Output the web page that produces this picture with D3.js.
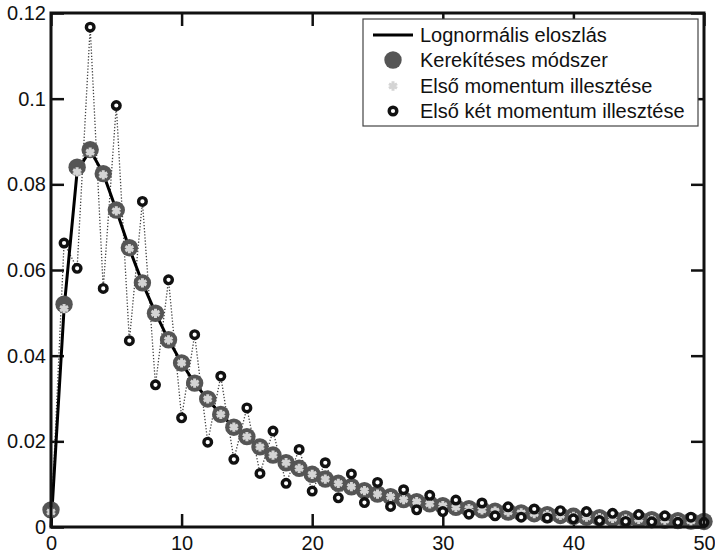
<!DOCTYPE html>
<html>
<head>
<meta charset="utf-8">
<script src="https://cdn.jsdelivr.net/npm/d3@7/dist/d3.min.js"></script>
<style>
  body { margin: 0; background: #fff; }
  text { font-family: "Liberation Sans", Arial, sans-serif; }
</style>
</head>
<body>
<svg id="chart" width="715" height="553"></svg>
<script>
var ks = [0, 1, 2, 3, 4, 5, 6, 7, 8, 9, 10, 11, 12, 13, 14, 15, 16, 17, 18, 19, 20,
  21, 22, 23, 24, 25, 26, 27, 28, 29, 30, 31, 32, 33, 34, 35, 36, 37, 38, 39, 40,
  41, 42, 43, 44, 45, 46, 47, 48, 49, 50];

// Lognormális eloszlás (line)
var lognormVals = [0, 0.051, 0.083, 0.088, 0.0825, 0.074, 0.065, 0.057, 0.050, 0.0437, 0.0383,
  0.0336, 0.0298, 0.0263, 0.0233, 0.0209, 0.0187, 0.0167, 0.0150, 0.0136, 0.0123,
  0.0112, 0.0102, 0.0094, 0.0085, 0.0077, 0.0071, 0.0064, 0.0059, 0.0054, 0.0050,
  0.0046, 0.0043, 0.0040, 0.0037, 0.0035, 0.0033, 0.0031, 0.0029, 0.0027, 0.0025,
  0.0023, 0.0022, 0.0020, 0.0019, 0.0018, 0.0017, 0.0016, 0.0015, 0.0014, 0.0013];

// Kerekítéses módszer
var roundVals = [0.004, 0.052, 0.084, 0.0881, 0.0825, 0.074, 0.0652, 0.057, 0.0499, 0.0437, 0.0383,
  0.0336, 0.0299, 0.0263, 0.0233, 0.0211, 0.0187, 0.0168, 0.0150, 0.0137, 0.0123,
  0.0112, 0.0102, 0.0094, 0.0085, 0.0077, 0.0071, 0.0064, 0.0059, 0.0054, 0.0050,
  0.0046, 0.0043, 0.0040, 0.0037, 0.0035, 0.0033, 0.0031, 0.0029, 0.0027, 0.0025,
  0.0023, 0.0022, 0.0020, 0.0019, 0.0018, 0.0017, 0.0016, 0.0015, 0.0014, 0.0013];

// Első momentum illesztése
var firstMomVals = [0.0035, 0.051, 0.0829, 0.0875, 0.0822, 0.0738, 0.065, 0.057, 0.0499, 0.0437, 0.0383,
  0.0336, 0.0299, 0.0263, 0.0233, 0.0211, 0.0187, 0.0168, 0.0150, 0.0137, 0.0123,
  0.0112, 0.0102, 0.0094, 0.0085, 0.0077, 0.0071, 0.0064, 0.0059, 0.0054, 0.0050,
  0.0046, 0.0043, 0.0040, 0.0037, 0.0035, 0.0033, 0.0031, 0.0029, 0.0027, 0.0025,
  0.0023, 0.0022, 0.0020, 0.0019, 0.0018, 0.0017, 0.0016, 0.0015, 0.0014, 0.0013];

// Első két momentum illesztése
var twoMomVals = [0, 0.0663, 0.0604, 0.1167, 0.0557, 0.0984, 0.0435, 0.0760, 0.0332, 0.0577, 0.0255,
  0.0449, 0.0198, 0.0352, 0.0158, 0.0278, 0.0125, 0.0224, 0.0102, 0.0181, 0.0084,
  0.0150, 0.0068, 0.0124, 0.0057, 0.0104, 0.0048, 0.0087, 0.0040, 0.0074, 0.0036,
  0.0063, 0.0030, 0.0056, 0.0026, 0.0047, 0.0023, 0.0042, 0.0021, 0.0038, 0.0019,
  0.0036, 0.0015, 0.0032, 0.0013, 0.0029, 0.0012, 0.0026, 0.0011, 0.0023, 0.0011];

var xTicks = [0, 10, 20, 30, 40, 50];
var yTicks = [0, 0.02, 0.04, 0.06, 0.08, 0.1, 0.12];
var legendLabels = ["Lognormális eloszlás", "Kerekítéses módszer",
  "Első momentum illesztése", "Első két momentum illesztése"];

var svg = d3.select("#chart");
var mLeft = 51, mRight = 704, mTop = 13, mBottom = 527;

var x = d3.scaleLinear().domain([0, 50]).range([mLeft, mRight]);
var y = d3.scaleLinear().domain([0, 0.12]).range([mBottom, mTop]);

var fmt = function (d) { return d === 0 ? "0" : String(+d.toFixed(2)); };
var tickLen = 13;

// axes with inward ticks
svg.append("g")
  .attr("transform", "translate(0," + mBottom + ")")
  .call(d3.axisBottom(x).tickValues(xTicks).tickSize(-tickLen).tickPadding(9).tickFormat(fmt))
  .call(function (g) {
    g.select(".domain").remove();
    g.selectAll("line").attr("stroke", "#111").attr("stroke-width", 2.5);
    g.selectAll("text").attr("font-size", 20).attr("fill", "#111");
  });
svg.append("g")
  .attr("transform", "translate(" + mLeft + ",0)")
  .call(d3.axisLeft(y).tickValues(yTicks).tickSize(-tickLen).tickPadding(5).tickFormat(fmt))
  .call(function (g) {
    g.select(".domain").remove();
    g.selectAll("line").attr("stroke", "#111").attr("stroke-width", 2.5);
    g.selectAll("text").attr("font-size", 20).attr("fill", "#111");
  });
svg.append("g")
  .attr("transform", "translate(0," + mTop + ")")
  .call(d3.axisTop(x).tickValues(xTicks).tickSize(-tickLen).tickFormat(""))
  .call(function (g) {
    g.select(".domain").remove();
    g.selectAll("line").attr("stroke", "#111").attr("stroke-width", 2.5);
  });
svg.append("g")
  .attr("transform", "translate(" + mRight + ",0)")
  .call(d3.axisRight(y).tickValues(yTicks).tickSize(-tickLen).tickFormat(""))
  .call(function (g) {
    g.select(".domain").remove();
    g.selectAll("line").attr("stroke", "#111").attr("stroke-width", 2.5);
  });

var line = d3.line().x(function (d) { return x(d[0]); }).y(function (d) { return y(d[1]); });

// dotted connecting lines
svg.append("path")
  .datum(ks.map(function (k, i) { return [k, twoMomVals[i]]; }))
  .attr("d", line)
  .attr("fill", "none")
  .attr("stroke", "#444")
  .attr("stroke-width", 1.3)
  .attr("stroke-dasharray", "1.3,1.8");
svg.append("path")
  .datum(ks.map(function (k, i) { return [k, firstMomVals[i]]; }))
  .attr("d", line)
  .attr("fill", "none")
  .attr("stroke", "#aaa")
  .attr("stroke-width", 1.3)
  .attr("stroke-dasharray", "1.3,1.8");

// lognormal line
svg.append("path")
  .datum(ks.map(function (k, i) { return [k, lognormVals[i]]; }))
  .attr("d", line)
  .attr("fill", "none")
  .attr("stroke", "#000")
  .attr("stroke-width", 3);

// rounding method markers
svg.append("g").selectAll("circle")
  .data(ks)
  .join("circle")
  .attr("cx", function (d) { return x(d); })
  .attr("cy", function (d, i) { return y(roundVals[i]); })
  .attr("r", 8.7)
  .attr("fill", "#555");

var aster = d3.symbol().type(d3.symbolAsterisk).size(60);
svg.append("g").selectAll("path")
  .data(ks)
  .join("path")
  .attr("d", aster)
  .attr("transform", function (d, i) { return "translate(" + x(d) + "," + y(firstMomVals[i]) + ")"; })
  .attr("fill", "none")
  .attr("stroke", "#d4d4d4")
  .attr("stroke-width", 3);

svg.append("g").selectAll("circle")
  .data(ks.slice(1))
  .join("circle")
  .attr("cx", function (d) { return x(d); })
  .attr("cy", function (d) { return y(twoMomVals[d]); })
  .attr("r", 3.8)
  .attr("fill", "#fff")
  .attr("stroke", "#111")
  .attr("stroke-width", 3.4);

// frame
svg.append("rect")
  .attr("x", mLeft).attr("y", mTop)
  .attr("width", mRight - mLeft).attr("height", mBottom - mTop)
  .attr("fill", "none")
  .attr("stroke", "#111")
  .attr("stroke-width", 3);

// legend
var lg = svg.append("g");
lg.append("rect")
  .attr("x", 363).attr("y", 19).attr("width", 335).attr("height", 107)
  .attr("fill", "#fff").attr("stroke", "#444").attr("stroke-width", 1.2);
var rowY = [35, 60, 86, 111];
lg.append("line")
  .attr("x1", 373).attr("x2", 413).attr("y1", rowY[0]).attr("y2", rowY[0])
  .attr("stroke", "#000").attr("stroke-width", 3);
lg.append("circle").attr("cx", 393).attr("cy", rowY[1]).attr("r", 8.7).attr("fill", "#555");
lg.append("path").attr("d", aster)
  .attr("transform", "translate(393," + rowY[2] + ")")
  .attr("fill", "none").attr("stroke", "#d4d4d4").attr("stroke-width", 3);
lg.append("circle").attr("cx", 393).attr("cy", rowY[3]).attr("r", 3.8)
  .attr("fill", "#fff").attr("stroke", "#111").attr("stroke-width", 3.4);
lg.selectAll("text.lbl")
  .data(legendLabels)
  .join("text")
  .attr("class", "lbl")
  .attr("x", 420)
  .attr("y", function (d, i) { return rowY[i]; })
  .attr("dy", "0.35em")
  .attr("font-size", 20)
  .attr("fill", "#111")
  .text(function (d) { return d; });
</script>
</body>
</html>
